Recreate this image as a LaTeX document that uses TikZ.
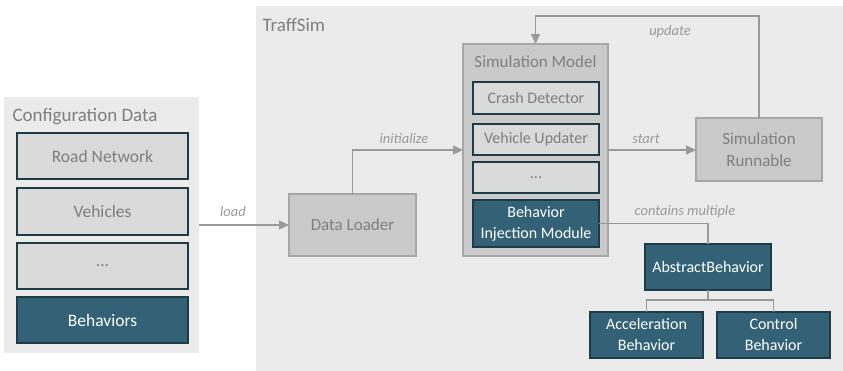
\documentclass[tikz,border=0pt]{standalone}
\usepackage{fontspec}
\setmainfont{Carlito}
\usetikzlibrary{arrows.meta,positioning,calc}
\definecolor{panelgray}{HTML}{EAEBEA}
\definecolor{boxgray}{HTML}{C9CAC9}
\definecolor{cellgray}{HTML}{D9DAD9}
\definecolor{edgegray}{HTML}{A6A7A6}
\definecolor{behavteal}{HTML}{336276}
\definecolor{tealedge}{HTML}{1E3C45}
\definecolor{ink}{HTML}{7F7F7F}
\definecolor{wire}{HTML}{9A9A9A}

\tikzset{
  panel/.style={fill=panelgray,draw=none,inner sep=0pt,outer sep=0pt},
  title/.style={anchor=west,text=ink,font=\fontsize{19}{22}\selectfont},
  cell/.style={draw=tealedge,line width=1.1pt,fill=cellgray,text=ink,inner sep=0pt,outer sep=0pt,
    align=center,font=\fontsize{16}{21}\selectfont},
  bigcell/.style={cell,font=\fontsize{17.5}{21}\selectfont},
  behav/.style={cell,fill=behavteal,text=white},
  block/.style={draw=edgegray,line width=1.2pt,fill=boxgray,text=ink,inner sep=0pt,outer sep=0pt,
    align=center,font=\fontsize{17}{22}\selectfont},
  flow/.style={draw=wire,line width=1.2pt,-{Triangle[length=10pt,width=9pt]}},
  link/.style={draw=wire,line width=1.2pt},
  lbl/.style={text=wire,font=\fontsize{14.5}{17}\selectfont\itshape},
}

\begin{document}
\begin{tikzpicture}[x=1pt,y=-1pt]
  \useasboundingbox (0,0) rectangle (843,371);
  % panels
  \node[panel,minimum width=195pt,minimum height=256pt] (cfg) at (101.5,225) {};
  \node[title] (cfgtitle) at (9,117) {Configuration Data};
  \node[panel,minimum width=587pt,minimum height=365pt] (traffsim) at (549.5,188.5) {};
  \node[title] (simtitle) at (259,25) {TraffSim};

  % configuration data
  \node[bigcell,minimum width=171pt,minimum height=46pt] (road) at (102.5,156) {Road Network};
  \node[bigcell,minimum width=171pt,minimum height=47pt] (vehicles) at (102.5,211.5) {Vehicles};
  \node[bigcell,minimum width=171pt,minimum height=46pt] (cfgdots) at (102.5,266) {...};
  \node[bigcell,fill=behavteal,text=white,minimum width=171pt,minimum height=46pt] (behaviors) at (102.5,320) {Behaviors};

  % simulation model and its parts
  \node[block,minimum width=145pt,minimum height=212pt] (model) at (535.5,150) {};
  \node[text=ink,font=\fontsize{17}{20}\selectfont] (modeltitle) at (535.5,62) {Simulation Model};
  \node[cell,minimum width=126pt,minimum height=32pt] (crash) at (536,98) {Crash Detector};
  \node[cell,minimum width=126pt,minimum height=31pt] (updater) at (536,139.5) {Vehicle Updater};
  \node[cell,minimum width=126pt,minimum height=31pt] (modeldots) at (536,177.5) {...};
  \node[behav,minimum width=126pt,minimum height=47pt] (bim) at (536,223.5) {Behavior\\Injection Module};

  \node[block,minimum width=127pt,minimum height=62pt] (loader) at (352.5,225) {Data Loader};
  \node[block,minimum width=126pt,minimum height=63pt] (runnable) at (759,149.5) {Simulation\\Runnable};

  % behaviour hierarchy
  \node[behav,minimum width=126pt,minimum height=46pt] (abstract) at (708,267) {AbstractBehavior};
  \node[behav,minimum width=113pt,minimum height=46pt] (accel) at (646.5,335) {Acceleration\\Behavior};
  \node[behav,minimum width=113pt,minimum height=46pt] (control) at (773.5,335) {Control\\Behavior};

  % connectors
  \coordinate (upd) at (0,16);
  \draw[flow] (cfg.east) -- (loader.west);
  \node[lbl] (loadlbl) at (233,212) {load};
  \draw[flow] (loader.north) |- (model.west);
  \node[lbl] (initlbl) at (404,139) {initialize};
  \draw[flow] (model.east) -- (model.east -| runnable.west);
  \node[lbl] (startlbl) at (646,139) {start};
  \draw[flow] (runnable.north) -- (runnable.north |- upd) -- (model.north |- upd) -- (model.north);
  \node[lbl] (updlbl) at (670,32) {update};
  \draw[link] (bim.east) -| (abstract.north);
  \node[lbl] (containslbl) at (685,212) {contains multiple};
  \draw[link] (abstract.south) -- ++(0,10) -| (accel.north);
  \draw[link] (abstract.south) -- ++(0,10) -| (control.north);
\end{tikzpicture}
\end{document}
